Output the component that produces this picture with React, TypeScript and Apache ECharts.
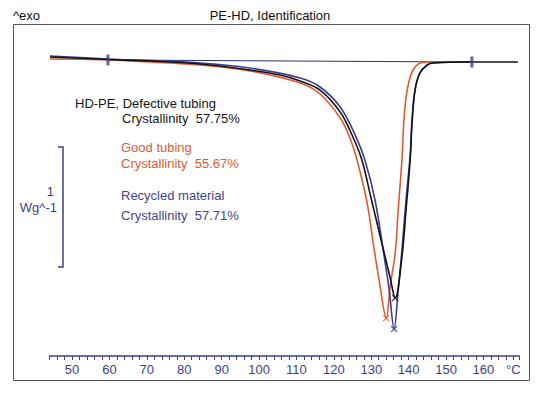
import React, { useEffect, useRef } from 'react';
import * as echarts from 'echarts';

// Temperature (°C) and heat flow (W/g, relative) for each sample
const defectiveT = [44.1, 59.6, 70.9, 84.2, 97.6, 105.6, 111, 116.3, 121.7, 125.1, 127.5, 130, 132.5, 135, 136.4, 138.2, 139.3, 140.4, 140.9, 141.7, 143, 144.9, 146.5, 156.9, 169.2];
const defectiveV = [-0.023, -0.044, -0.057, -0.081, -0.131, -0.173, -0.222, -0.297, -0.479, -0.686, -0.877, -1.2, -1.523, -1.846, -2.02, -1.68, -1.291, -0.877, -0.57, -0.297, -0.156, -0.09, -0.073, -0.065, -0.065];

const goodT = [44.1, 59.6, 84.2, 97.6, 111, 116.3, 121.7, 124.3, 126.2, 128.9, 130.8, 132.1, 134, 135.1, 136.4, 137.2, 138.2, 139, 140.4, 142.2, 144.9, 156.9];
const goodV = [-0.04, -0.048, -0.09, -0.139, -0.239, -0.33, -0.529, -0.694, -0.877, -1.233, -1.622, -1.871, -2.186, -1.912, -1.647, -1.291, -0.877, -0.438, -0.189, -0.09, -0.065, -0.065];

const recycledT = [44.1, 59.6, 84.2, 97.6, 111, 116.3, 121.7, 125.7, 128.3, 131, 133.4, 134.8, 136.1, 137.2, 138.2, 139.3, 140.4, 140.9, 141.7, 143, 144.9, 146.5, 156.9];
const recycledV = [-0.015, -0.04, -0.073, -0.115, -0.197, -0.272, -0.438, -0.67, -0.877, -1.208, -1.664, -1.954, -2.277, -1.954, -1.622, -1.208, -0.835, -0.545, -0.297, -0.156, -0.09, -0.073, -0.065];

// Integration limits (baseline)
const baselineT = [59.6, 156.9];
const baselineV = [-0.048, -0.065];

const tickLabels = [50, 60, 70, 80, 90, 100, 110, 120, 130, 140, 150, 160];
const unitTick = 168;
const unitLabel = '°C';

const titleText = 'PE-HD, Identification';
const exoText = '^exo';
const scaleValue = '1';
const scaleUnit = 'Wg^-1';
const annotations = [
  { text: 'HD-PE, Defective tubing', key: 'black' },
  { text: 'Crystallinity  57.75%', key: 'black' },
  { text: 'Good tubing', key: 'red' },
  { text: 'Crystallinity  55.67%', key: 'red' },
  { text: 'Recycled material', key: 'blue' },
  { text: 'Crystallinity  57.71%', key: 'blue' },
];

const FONT = "'Liberation Sans', Arial, Helvetica, sans-serif";
const C = { black: '#141414', red: '#e8562a', blue: '#3b3e94', navy: '#3b3f8c' };
const TXT = { black: '#161616', red: '#e35a30', blue: '#41448f' };

const zip = (t: number[], v: number[]) => t.map((x, i) => [x, v[i]]);
const minPoint = (t: number[], v: number[]) => {
  let k = 0;
  v.forEach((y, i) => { if (y < v[k]) k = i; });
  return [t[k], v[k]];
};

const crossSymbol = 'path://M0,0L10,10M10,0L0,10';

export default function App() {
  const ref = useRef<HTMLDivElement>(null);
  useEffect(() => {
    const chart = echarts.init(ref.current!, null, { renderer: 'svg' });
    const annPos = [
      { x: 75, y: 103 }, { x: 122, y: 118 }, { x: 121, y: 147 },
      { x: 121, y: 163 }, { x: 121, y: 195 }, { x: 121, y: 215 },
    ];
    const lineSeries = (name: string, data: number[][], color: string, z: number) => ({
      type: 'line', name, data, symbol: 'none', showSymbol: false,
      smooth: 0.35,
      lineStyle: { color, width: 1.6 }, z, silent: true,
    });
    const crossSeries = (pt: number[], color: string) => ({
      type: 'scatter', data: [pt], symbol: crossSymbol, symbolSize: 6,
      itemStyle: { color: 'transparent', borderColor: color, borderWidth: 1.3 }, z: 10, silent: true,
    });
    chart.setOption({
      animation: false,
      backgroundColor: '#fff',
      grid: { left: 49.6, right: 21, top: 24, bottom: 40, containLabel: false },
      xAxis: {
        type: 'value', min: 44, max: 169.5, interval: 2,
        axisLine: { show: true, onZero: false, lineStyle: { color: C.navy, width: 1.5 } },
        axisTick: { show: true, inside: false, length: 4, lineStyle: { color: C.navy, width: 1 } },
        axisLabel: {
          color: C.navy, fontSize: 13, fontFamily: FONT, margin: 7,
          formatter: (v: number) => {
            if (tickLabels.some((t) => Math.abs(t - v) < 1e-6)) return String(Math.round(v));
            if (Math.abs(v - unitTick) < 1e-6) return unitLabel;
            return '';
          },
        },
        splitLine: { show: false },
      },
      yAxis: { type: 'value', min: -2.5, max: 0.25, show: false },
      series: [
        { type: 'line', data: zip(baselineT, baselineV), symbol: 'none', lineStyle: { color: '#2c3070', width: 1 }, z: 1, silent: true },
        lineSeries('Good tubing', zip(goodT, goodV), C.red, 2),
        lineSeries('Recycled material', zip(recycledT, recycledV), C.blue, 3),
        lineSeries('Defective tubing', zip(defectiveT, defectiveV), C.black, 4),
        crossSeries(minPoint(goodT, goodV), C.red),
        crossSeries(minPoint(recycledT, recycledV), C.blue),
        crossSeries(minPoint(defectiveT, defectiveV), C.black),
        {
          type: 'scatter', data: zip(baselineT, baselineV), symbol: 'rect', symbolSize: [3, 11],
          itemStyle: { color: C.navy }, z: 9, silent: true,
        },
      ],
      graphic: [
        { type: 'rect', shape: { x: 13.5, y: 24.5, width: 516, height: 356 }, style: { fill: 'none', stroke: '#555', lineWidth: 1 }, silent: true },
        { type: 'text', x: 13, y: 15, style: { text: exoText, fontSize: 13, fontFamily: FONT, fill: '#111', align: 'left', verticalAlign: 'middle' } },
        { type: 'text', x: 270, y: 15, style: { text: titleText, fontSize: 13, fontFamily: FONT, fill: '#111', align: 'center', verticalAlign: 'middle' } },
        { type: 'polyline', shape: { points: [[58, 147], [63, 147], [63, 267], [58, 267]] }, style: { stroke: C.navy, lineWidth: 1.5, fill: 'none' } },
        { type: 'text', x: 54, y: 191, style: { text: scaleValue, fontSize: 13, fontFamily: FONT, fill: C.navy, align: 'right', verticalAlign: 'middle' } },
        { type: 'text', x: 57, y: 207, style: { text: scaleUnit, fontSize: 13, fontFamily: FONT, fill: C.navy, align: 'right', verticalAlign: 'middle' } },
        ...annotations.map((a, i) => ({
          type: 'text', x: annPos[i].x, y: annPos[i].y,
          style: { text: a.text, fontSize: 13, fontFamily: FONT, fill: (TXT as any)[a.key], align: 'left', verticalAlign: 'middle' },
        })),
      ],
    });
    return () => chart.dispose();
  }, []);
  return <div ref={ref} style={{ position: 'fixed', left: 0, top: 0, width: 540, height: 396, background: '#fff' }} />;
}
